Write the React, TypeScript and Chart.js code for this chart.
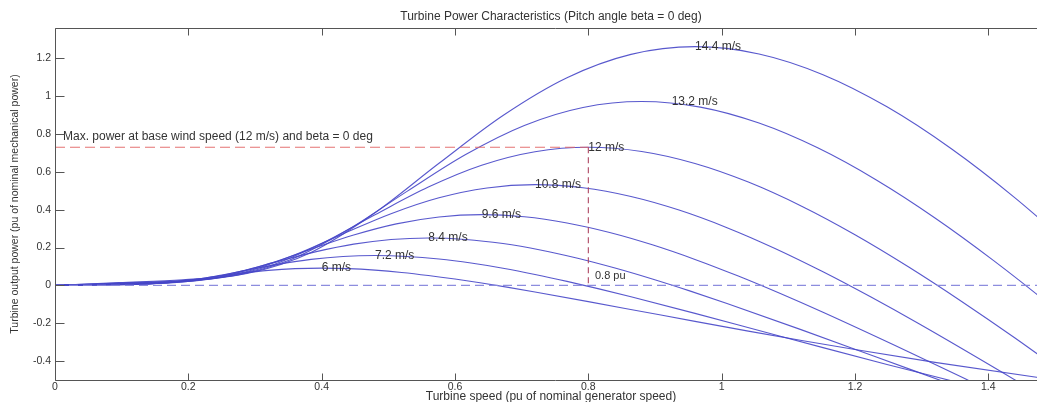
import React, { useEffect, useRef } from 'react';
import { Chart, registerables } from 'chart.js';

Chart.register(...registerables);

const TITLE = 'Turbine Power Characteristics (Pitch angle beta = 0 deg)';
const X_TITLE = 'Turbine speed (pu of nominal generator speed)';
const Y_TITLE = 'Turbine output power (pu of nominal mechanical power)';

const X_TICKS = [0, 0.2, 0.4, 0.6, 0.8, 1, 1.2, 1.4];
const Y_TICKS = [-0.4, -0.2, 0, 0.2, 0.4, 0.6, 0.8, 1, 1.2];
const X_MIN = 0;
const X_MAX = 1.5;
const Y_MIN = -0.5;
const Y_MAX = 1.36;

const WIND_LABELS = ['6 m/s', '7.2 m/s', '8.4 m/s', '9.6 m/s', '10.8 m/s', '12 m/s', '13.2 m/s', '14.4 m/s'];

const SPEED_6 = [0, 0.04, 0.08, 0.12, 0.16, 0.2, 0.24, 0.28, 0.32, 0.36, 0.4, 0.44, 0.48, 0.52, 0.56, 0.6, 0.64, 0.68, 0.72, 0.8, 0.88, 0.96, 1.04, 1.12, 1.2, 1.32, 1.48, 1.5];
const POWER_6 = [0, 0.0011, 0.0021, 0.0045, 0.0126, 0.0277, 0.0467, 0.0649, 0.0794, 0.0883, 0.0913, 0.0885, 0.0805, 0.0683, 0.0523, 0.0335, 0.0123, -0.0106, -0.0348, -0.0857, -0.138, -0.1904, -0.2417, -0.2914, -0.3392, -0.407, -0.4897, -0.4995];

const SPEED_7_2 = [0, 0.048, 0.096, 0.144, 0.192, 0.24, 0.288, 0.336, 0.384, 0.432, 0.48, 0.528, 0.576, 0.624, 0.672, 0.72, 0.768, 0.816, 0.864, 0.96, 1.056, 1.152, 1.248, 1.344];
const POWER_7_2 = [0, 0.0018, 0.0037, 0.0079, 0.0218, 0.0479, 0.0806, 0.1122, 0.1372, 0.1526, 0.1577, 0.1529, 0.1392, 0.1179, 0.0904, 0.0578, 0.0213, -0.0183, -0.0601, -0.1481, -0.2385, -0.3289, -0.4177, -0.5036];

const SPEED_8_4 = [0, 0.056, 0.112, 0.168, 0.224, 0.28, 0.336, 0.392, 0.448, 0.504, 0.56, 0.616, 0.672, 0.728, 0.784, 0.84, 0.896, 0.952, 1.008, 1.12, 1.232, 1.344];
const POWER_8_4 = [0, 0.0029, 0.0058, 0.0125, 0.0346, 0.0761, 0.128, 0.1782, 0.2178, 0.2423, 0.2504, 0.2428, 0.221, 0.1873, 0.1436, 0.0918, 0.0338, -0.0291, -0.0955, -0.2351, -0.3787, -0.5223];

const SPEED_9_6 = [0, 0.064, 0.128, 0.192, 0.256, 0.32, 0.384, 0.448, 0.512, 0.576, 0.64, 0.704, 0.768, 0.832, 0.896, 0.96, 1.024, 1.088, 1.152, 1.28, 1.408];
const POWER_9_6 = [0, 0.0043, 0.0087, 0.0186, 0.0516, 0.1136, 0.1911, 0.266, 0.3251, 0.3617, 0.3738, 0.3624, 0.3299, 0.2795, 0.2143, 0.1371, 0.0504, -0.0434, -0.1426, -0.351, -0.5654];

const SPEED_10_8 = [0, 0.072, 0.144, 0.216, 0.288, 0.36, 0.432, 0.504, 0.576, 0.648, 0.72, 0.792, 0.864, 0.936, 1.008, 1.08, 1.152, 1.224, 1.296, 1.44, 1.584];
const POWER_10_8 = [0, 0.0061, 0.0124, 0.0265, 0.0734, 0.1618, 0.2721, 0.3787, 0.4629, 0.5149, 0.5322, 0.5159, 0.4697, 0.398, 0.3051, 0.1952, 0.0718, -0.0618, -0.203, -0.4997, -0.805];

const SPEED_12 = [0, 0.08, 0.16, 0.24, 0.32, 0.4, 0.48, 0.56, 0.64, 0.72, 0.8, 0.88, 0.96, 1.04, 1.12, 1.2, 1.28, 1.36, 1.44, 1.6];
const POWER_12 = [0, 0.0084, 0.017, 0.0364, 0.1007, 0.2219, 0.3733, 0.5195, 0.635, 0.7064, 0.73, 0.7077, 0.6443, 0.546, 0.4185, 0.2678, 0.0985, -0.0848, -0.2784, -0.6855];

const SPEED_13_2 = [0, 0.088, 0.176, 0.264, 0.352, 0.44, 0.528, 0.616, 0.704, 0.792, 0.88, 0.968, 1.056, 1.144, 1.232, 1.32, 1.408, 1.496, 1.584];
const POWER_13_2 = [0, 0.0112, 0.0226, 0.0484, 0.1341, 0.2954, 0.4968, 0.6914, 0.8451, 0.9402, 0.9716, 0.942, 0.8576, 0.7267, 0.557, 0.3564, 0.1311, -0.1128, -0.3706];

const SPEED_14_4 = [0, 0.096, 0.192, 0.288, 0.384, 0.48, 0.576, 0.672, 0.768, 0.864, 0.96, 1.056, 1.152, 1.248, 1.344, 1.44, 1.536];
const POWER_14_4 = [0, 0.0145, 0.0294, 0.0628, 0.1741, 0.3835, 0.645, 0.8976, 1.0972, 1.2206, 1.2614, 1.223, 1.1134, 0.9434, 0.7232, 0.4627, 0.1702];

const CURVE_SPEEDS = [SPEED_6, SPEED_7_2, SPEED_8_4, SPEED_9_6, SPEED_10_8, SPEED_12, SPEED_13_2, SPEED_14_4];
const CURVE_POWERS = [POWER_6, POWER_7_2, POWER_8_4, POWER_9_6, POWER_10_8, POWER_12, POWER_13_2, POWER_14_4];

// label anchor positions (data units) for each wind-speed label
const LABEL_X = [0.4, 0.48, 0.56, 0.64, 0.72, 0.8, 0.925, 0.96];
const LABEL_Y = [0.0913, 0.1577, 0.2504, 0.3738, 0.5322, 0.73, 0.9716, 1.2614];

const BASE_LINE_X = [0, 0.8];
const BASE_LINE_Y = [0.73, 0.73];
const BASE_DROP_X = [0.8, 0.8];
const BASE_DROP_Y = [0.73, 0];
const ZERO_LINE_X = [0, 1.5];
const ZERO_LINE_Y = [0, 0];

const NOTE_MAX = 'Max. power at base wind speed (12 m/s) and beta = 0 deg';
const NOTE_MAX_POS = [0.012, 0.785];
const NOTE_PU = '0.8 pu';
const NOTE_PU_POS = [0.81, 0.05];

const FONT = '"Liberation Sans", Arial, Helvetica, sans-serif';
const AXIS_COLOR = '#555555';
const TEXT_COLOR = '#333333';
const CURVE_COLOR = 'rgba(70, 70, 200, 0.9)';

const zip = (xs: number[], ys: number[]) => xs.map((x, i) => ({ x, y: ys[i] }));

const decorations = {
  id: 'decorations',
  afterDatasetsDraw(chart: any) {
    const { ctx, scales } = chart;
    const xs = scales.x;
    const ys = scales.y;
    ctx.save();
    ctx.font = `12px ${FONT}`;
    ctx.fillStyle = TEXT_COLOR;
    ctx.textAlign = 'left';
    ctx.textBaseline = 'middle';
    WIND_LABELS.forEach((t, i) => {
      ctx.fillText(t, xs.getPixelForValue(LABEL_X[i]), ys.getPixelForValue(LABEL_Y[i]));
    });
    ctx.fillText(NOTE_MAX, xs.getPixelForValue(NOTE_MAX_POS[0]), ys.getPixelForValue(NOTE_MAX_POS[1]));
    ctx.font = `11px ${FONT}`;
    ctx.fillText(NOTE_PU, xs.getPixelForValue(NOTE_PU_POS[0]), ys.getPixelForValue(NOTE_PU_POS[1]));
    ctx.restore();
  },
  afterDraw(chart: any) {
    const { ctx, chartArea: a, scales } = chart;
    const xs = scales.x;
    const ys = scales.y;
    ctx.save();
    ctx.strokeStyle = AXIS_COLOR;
    ctx.lineWidth = 1;
    const L = Math.round(a.left) + 0.5;
    const R = Math.round(a.right) + 0.5;
    const T = Math.round(a.top) + 0.5;
    const B = Math.round(a.bottom) + 0.5;
    ctx.beginPath();
    ctx.moveTo(L, T);
    ctx.lineTo(R, T);
    ctx.lineTo(R, B);
    ctx.lineTo(L, B);
    ctx.closePath();
    X_TICKS.forEach((v) => {
      const px = Math.round(xs.getPixelForValue(v)) + 0.5;
      ctx.moveTo(px, B);
      ctx.lineTo(px, B - 7);
      ctx.moveTo(px, T);
      ctx.lineTo(px, T + 7);
    });
    Y_TICKS.forEach((v) => {
      const py = Math.round(ys.getPixelForValue(v)) + 0.5;
      ctx.moveTo(L, py);
      ctx.lineTo(L + 9, py);
      ctx.moveTo(R, py);
      ctx.lineTo(R - 9, py);
    });
    ctx.stroke();

    ctx.fillStyle = TEXT_COLOR;
    ctx.textAlign = 'center';
    ctx.textBaseline = 'middle';
    const cx = (a.left + a.right) / 2 - 4;
    ctx.font = `12px ${FONT}`;
    ctx.fillText(TITLE, cx, 17);
    ctx.fillText(X_TITLE, cx, 397);
    ctx.translate(15, (a.top + a.bottom) / 2);
    ctx.rotate(-Math.PI / 2);
    ctx.font = `10.5px ${FONT}`;
    ctx.fillText(Y_TITLE, 0, 0);
    ctx.restore();
  },
};

export default function App() {
  const ref = useRef<HTMLCanvasElement | null>(null);

  useEffect(() => {
    if (!ref.current) return;
    const curveSets = CURVE_SPEEDS.map((xsArr, i) => ({
      label: WIND_LABELS[i],
      data: zip(xsArr, CURVE_POWERS[i]),
      borderColor: CURVE_COLOR,
      borderWidth: 1.1,
      pointRadius: 0,
      fill: false,
      cubicInterpolationMode: 'monotone' as const,
    }));
    const dashed = (label: string, xsArr: number[], ysArr: number[], color: string, dash: number[]) => ({
      label,
      data: zip(xsArr, ysArr),
      borderColor: color,
      borderWidth: 1.1,
      borderDash: dash,
      pointRadius: 0,
      fill: false,
      tension: 0,
    });
    const chart = new Chart(ref.current, {
      type: 'line',
      data: {
        datasets: [
          dashed('zero', ZERO_LINE_X, ZERO_LINE_Y, 'rgba(135, 135, 220, 0.95)', [9, 5]),
          dashed('base', BASE_LINE_X, BASE_LINE_Y, 'rgba(225, 100, 100, 0.9)', [10, 5]),
          dashed('drop', BASE_DROP_X, BASE_DROP_Y, 'rgba(170, 60, 90, 0.95)', [6, 4]),
          ...curveSets,
        ],
      },
      options: {
        responsive: false,
        animation: false,
        events: [],
        layout: { padding: { top: 28, right: 5, left: 0, bottom: 0 } },
        plugins: {
          legend: { display: false },
          tooltip: { enabled: false },
          title: { display: false },
        },
        scales: {
          x: {
            type: 'linear',
            min: X_MIN,
            max: X_MAX,
            grid: { display: false, drawTicks: false },
            border: { display: false },
            afterBuildTicks: (s: any) => {
              s.ticks = X_TICKS.map((v) => ({ value: v }));
            },
            afterFit: (s: any) => {
              s.height = 26;
            },
            ticks: {
              autoSkip: false,
              maxRotation: 0,
              padding: 1,
              color: TEXT_COLOR,
              font: { family: FONT, size: 10.5 },
              callback: (v: any) => String(Math.round(Number(v) * 10) / 10),
            },
          },
          y: {
            type: 'linear',
            min: Y_MIN,
            max: Y_MAX,
            grid: { display: false, drawTicks: false },
            border: { display: false },
            afterBuildTicks: (s: any) => {
              s.ticks = Y_TICKS.map((v) => ({ value: v }));
            },
            afterFit: (s: any) => {
              s.width = 55;
            },
            ticks: {
              autoSkip: false,
              padding: 4,
              color: TEXT_COLOR,
              font: { family: FONT, size: 10.5 },
              callback: (v: any) => String(Math.round(Number(v) * 10) / 10),
            },
          },
        },
      },
      plugins: [decorations],
    });
    return () => chart.destroy();
  }, []);

  return (
    <div
      style={{
        position: 'fixed',
        left: 0,
        top: 0,
        width: 1037,
        height: 402,
        overflow: 'hidden',
        background: '#ffffff',
      }}
    >
      <canvas ref={ref} width={1060} height={406} style={{ display: 'block' }} />
    </div>
  );
}
